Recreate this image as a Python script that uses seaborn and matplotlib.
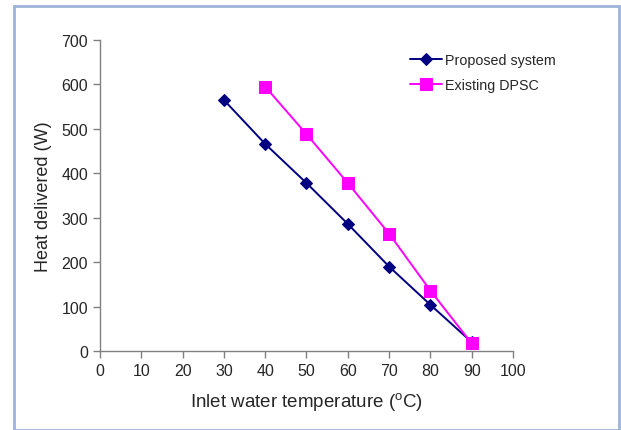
import matplotlib
matplotlib.use('Agg')
import matplotlib.pyplot as plt
import pandas as pd
import seaborn as sns
from matplotlib.patches import Rectangle

# Data
temp_proposed = [30, 40, 50, 60, 70, 80, 90]
heat_proposed = [565, 466, 378, 286, 190, 104, 20]
temp_existing = [40, 50, 60, 70, 80, 90]
heat_existing = [595, 488, 378, 264, 136, 17]
x_ticks = [0, 10, 20, 30, 40, 50, 60, 70, 80, 90, 100]
y_ticks = [0, 100, 200, 300, 400, 500, 600, 700]

df_prop = pd.DataFrame({'temp': temp_proposed, 'heat': heat_proposed})
df_exist = pd.DataFrame({'temp': temp_existing, 'heat': heat_existing})

sns.set_style('white')
plt.rcParams['font.family'] = ['Liberation Sans', 'DejaVu Sans']
plt.rcParams['mathtext.default'] = 'regular'

fig = plt.figure(figsize=(6.21, 4.31), dpi=100)
ax = fig.add_axes([100 / 621, 1 - 352 / 431, 413 / 621, 311 / 431])

sns.lineplot(data=df_prop, x='temp', y='heat', ax=ax, color='#000080',
             marker='D', markersize=6, markeredgecolor='#000080',
             linewidth=1.4, label='Proposed system')
sns.lineplot(data=df_exist, x='temp', y='heat', ax=ax, color='#FF00FF',
             marker='s', markersize=8, markeredgecolor='#FF00FF',
             linewidth=1.4, label='Existing DPSC')

ax.set_xlim(0, 100)
ax.set_ylim(0, 700)
ax.set_xticks(x_ticks)
ax.set_yticks(y_ticks)
ax.tick_params(axis='both', direction='out', length=5, width=1, color='#808080',
               labelsize=11.5, bottom=True, left=True)
for side in ['top', 'right']:
    ax.spines[side].set_visible(False)
for side in ['left', 'bottom']:
    ax.spines[side].set_color('#808080')
    ax.spines[side].set_linewidth(1)

ax.set_xlabel('Inlet water temperature ($^{o}$C)', fontsize=13.5, labelpad=9)
ax.set_ylabel('Heat delivered (W)', fontsize=13, labelpad=7)

ax.legend(loc='upper left', bbox_to_anchor=(0.72, 1.0), frameon=False,
          fontsize=10.3, handlelength=2.2, labelspacing=0.75, handletextpad=0.25)

# light blue frame around the figure
fig.patches.append(Rectangle((14 / 621, 0.0), 605 / 621, 1 - 7 / 431,
                             transform=fig.transFigure, fill=False,
                             edgecolor='#9DB3D9', linewidth=2))

fig.savefig('out.png', dpi=100)
